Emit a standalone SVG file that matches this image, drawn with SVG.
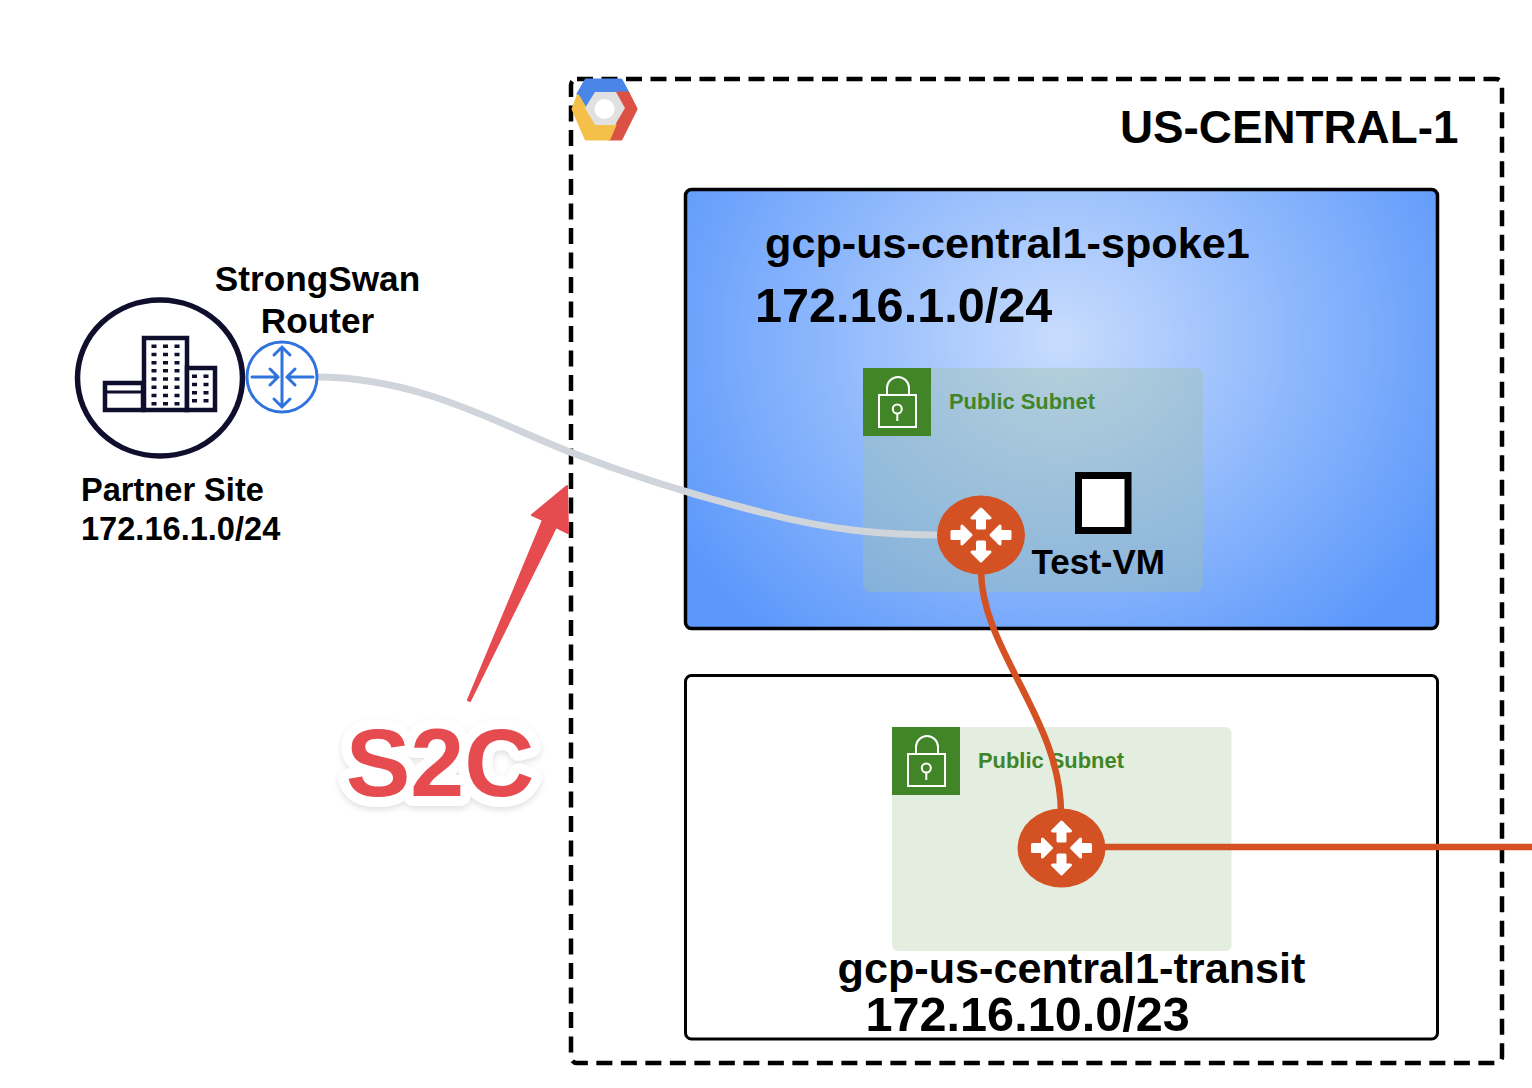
<svg xmlns="http://www.w3.org/2000/svg" xmlns:xlink="http://www.w3.org/1999/xlink" width="1532" height="1088" viewBox="0 0 1532 1088">
<style>
text{font-family:"Liberation Sans",Arial,sans-serif;font-weight:700;fill:#000}
.subnetlabel{font-size:21.9px;fill:#418528}
.big{font-size:43.2px}
.cidr{font-size:48.6px}
.small{font-size:32.6px}
.sr{font-size:35.2px;text-anchor:middle}
.lock{fill:none;stroke:#fff;stroke-width:2}
.conn{fill:none;stroke-linecap:butt}
</style>
<defs>
<radialGradient id="blue" gradientUnits="userSpaceOnUse" cx="0" cy="0" r="1" gradientTransform="translate(1060 340) scale(440 390)">
<stop offset="0" stop-color="#c8dcfd"/><stop offset="1" stop-color="#5c98fb"/>
</radialGradient>
<filter id="sh" x="-20%" y="-20%" width="140%" height="140%"><feDropShadow dx="0" dy="3" stdDeviation="3" flood-color="#000" flood-opacity=".12"/></filter>
<g id="router-icon">
<ellipse cx="0" cy="0" rx="44" ry="39.500" fill="#d35122"/>
<g fill="#fff" stroke="#fff" stroke-width="3" stroke-linejoin="round">
<path d="M0-26 9-17H3.500V-7H-3.500V-17H-9Z"/>
<path d="M0 26 9 17H3.500V7H-3.500V17H-9Z"/>
<path d="M-10 0-19-9V-3.500H-29V3.500H-19V9Z"/>
<path d="M10 0 19-9V-3.500H29V3.500H19V9Z"/>
</g>
</g>
<g id="lock-icon" class="lock">
<rect x="16" y="27" width="37" height="32"/>
<path d="M24 27V20A11 11 0 0 1 46 20V27"/>
<circle cx="34.300" cy="41" r="4.500"/>
<path d="M34.300 45.500V53"/>
</g>
</defs>

<g id="region">
<rect x="571" y="79" width="931" height="984" rx="6" fill="none" stroke="#000" stroke-width="4.500" stroke-dasharray="16 8.500"/>
<text x="1120" y="143" style="font-size:45.800px">US-CENTRAL-1</text>
</g>
<g id="gcp-logo" stroke-width="3" stroke-linejoin="round">
<polygon points="586,80 621,80 628,93 595,93 585,108 578,94" fill="#4a86e8" stroke="#4a86e8"/>
<polygon points="617,93 628,93 636,109 621,139 609,139 625,108" fill="#dd5144" stroke="#dd5144"/>
<polygon points="573,109 578,96 585,108 595,125 615,125 609,139 586,139" fill="#f4c04a" stroke="#f4c04a"/>
<polygon points="585,108 595,92 616,92 625,108 615,125 595,125" fill="#e1e1e1" stroke="none"/>
<circle cx="604.500" cy="109" r="10" fill="#fff" stroke="none"/>
</g>

<g id="spoke-vpc">
<rect x="685.500" y="189.500" width="752" height="439" rx="6" fill="url(#blue)" stroke="#000" stroke-width="3.500"/>
<text class="big" x="765" y="258">gcp-us-central1-spoke1</text>
<text class="cidr" x="755" y="322">172.16.1.0/24</text>
</g>
<g id="spoke-subnet">
<rect x="863" y="368" width="340" height="224" rx="8" fill="#9dc0aa" fill-opacity=".4"/>
<rect x="863" y="368" width="68" height="68" fill="#418528"/>
<use xlink:href="#lock-icon" href="#lock-icon" x="863" y="368"/>
<text class="subnetlabel" x="949" y="409">Public Subnet</text>
</g>
<g id="test-vm">
<rect x="1078.500" y="475.500" width="49.500" height="55" fill="#fff" stroke="#000" stroke-width="7"/>
<text x="1031.500" y="574" style="font-size:35px">Test-VM</text>
</g>

<g id="transit-vpc">
<rect x="685.500" y="675.500" width="752" height="363.500" rx="6" fill="#fff" stroke="#000" stroke-width="3"/>
</g>
<g id="transit-subnet">
<rect x="892" y="727" width="339.500" height="224" rx="6" fill="#e3ede0"/>
<rect x="892" y="727" width="68" height="68" fill="#418528"/>
<use xlink:href="#lock-icon" href="#lock-icon" x="892" y="727"/>
<text class="subnetlabel" x="978" y="768">Public Subnet</text>
</g>
<g id="transit-labels">
<text class="big" x="837.500" y="983">gcp-us-central1-transit</text>
<text class="cidr" x="865.500" y="1030.500">172.16.10.0/23</text>
</g>

<g id="connectors">
<path class="conn" d="M316 377C420 377 500 425 570 452S700 497 760 512C830 530 880 535 942 535" stroke="#d0d4db" stroke-width="7"/>
<path class="conn" d="M981 570C981 650 1062 720 1061 815" stroke="#d35122" stroke-width="6.500"/>
<path class="conn" d="M1100 847H1532" stroke="#d35122" stroke-width="6.500"/>
</g>

<g id="spoke-gateway"><use xlink:href="#router-icon" href="#router-icon" x="981" y="535"/></g>
<g id="transit-gateway"><use xlink:href="#router-icon" href="#router-icon" x="1061.500" y="848"/></g>

<g id="partner-site">
<ellipse cx="160" cy="378" rx="82.500" ry="78" fill="#fff" stroke="#0f0f2d" stroke-width="5.500"/>
<g fill="#fff" stroke="#0f0f2d" stroke-width="4.500">
<rect x="105" y="383" width="38" height="27"/>
<path d="M105 392H143" stroke-width="3"/>
<rect x="144" y="338" width="43" height="72"/>
<rect x="187" y="368" width="28" height="42"/>
</g>
<g fill="none" stroke="#0f0f2d" stroke-width="5" stroke-dasharray="3.500 4.700">
<path d="M154 344.500V406M165.500 344.500V406M177 344.500V406"/>
<path d="M194.500 374.500V404M206 374.500V404"/>
</g>
<text class="small" x="81" y="501">Partner Site</text>
<text class="small" x="81" y="540">172.16.1.0/24</text>
</g>

<g id="strongswan-router">
<circle cx="282" cy="377" r="35" fill="#fff" stroke="#2f74de" stroke-width="3"/>
<g fill="none" stroke="#2f74de" stroke-width="3" stroke-linecap="round">
<path d="M282 347V407M274 355 282 347 290 355M274 399 282 407 290 399"/>
<path d="M252 377H278M270 369 278 377 270 385"/>
<path d="M313 377H287M295 369 287 377 295 385"/>
</g>
<text class="sr" x="317.500" y="291">StrongSwan</text>
<text class="sr" x="317.500" y="333">Router</text>
</g>

<g id="s2c-callout">
<polygon points="567,486 532,515 543,520 468,700 470,701 556,527 568,533" fill="#e64b50" stroke="#e64b50" stroke-width="2" stroke-linejoin="round"/>
<text x="440" y="796" text-anchor="middle" filter="url(#sh)" stroke="#fff" stroke-width="20" stroke-linejoin="round" paint-order="stroke" style="font-size:97px;fill:#e64b50">S2C</text>
</g>
</svg>
